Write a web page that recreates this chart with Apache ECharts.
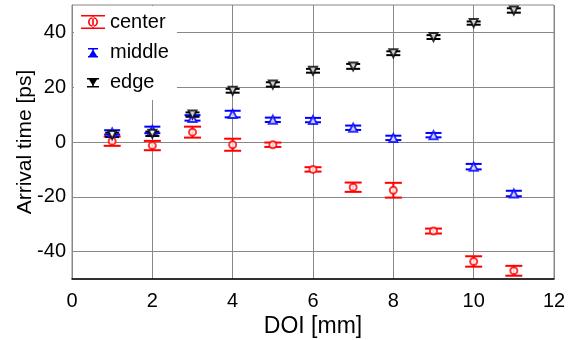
<!DOCTYPE html>
<html>
<head>
<meta charset="utf-8">
<script src="https://cdn.jsdelivr.net/npm/echarts@6/dist/echarts.min.js"></script>
<style>
  html, body { margin: 0; padding: 0; background: #fff; }
  #chart { width: 568px; height: 340px; }
</style>
</head>
<body>
<div id="chart"></div>
<script>
// Depth of interaction (mm) for each measurement
const doi = [1, 2, 3, 4, 5, 6, 7, 8, 9, 10, 11];

// Mean arrival time (ps) and its uncertainty for each crystal position
const centerTime = [0.3, -1.3, 3.6, -1.0, -1.0, -10.0, -16.5, -17.6, -32.5, -43.6, -47.0];
const centerErr  = [1.7, 1.7, 2.0, 2.2, 0.8, 0.8, 1.7, 2.7, 0.9, 1.9, 1.8];

const middleTime = [3.5, 4.4, 8.8, 10.2, 8.1, 8.0, 5.2, 1.5, 2.5, -9.0, -18.8];
const middleErr  = [0.8, 1.2, 1.0, 1.2, 0.8, 0.8, 0.8, 0.8, 0.8, 1.0, 1.0];

const edgeTime = [2.6, 3.0, 10.0, 18.7, 21.0, 26.0, 27.6, 32.4, 38.3, 43.4, 48.0];
const edgeErr  = [0.8, 0.8, 0.8, 0.7, 0.8, 0.7, 0.9, 0.7, 0.7, 0.6, 0.8];

// Axis ticks
const xTicks = [0, 2, 4, 6, 8, 10, 12];
const yTicks = [-40, -20, 0, 20, 40];

const FONT = 'Liberation Sans, Arial, Helvetica, sans-serif';
const GRID_COLOR = '#888';

function rows(times, errs) {
  return doi.map((d, i) => [d, times[i], errs[i]]);
}

// Vertical error bar with end caps, drawn in data coordinates
function errorBarRenderer(color, capHalf, width) {
  return function (params, api) {
    const x = api.value(0), y = api.value(1), e = api.value(2);
    const hi = api.coord([x, y + e]);
    const lo = api.coord([x, y - e]);
    const style = { stroke: color, lineWidth: width, fill: null };
    return {
      type: 'group',
      children: [
        { type: 'line', shape: { x1: hi[0], y1: hi[1], x2: lo[0], y2: lo[1] }, style },
        { type: 'line', shape: { x1: hi[0] - capHalf, y1: hi[1], x2: hi[0] + capHalf, y2: hi[1] }, style },
        { type: 'line', shape: { x1: lo[0] - capHalf, y1: lo[1], x2: lo[0] + capHalf, y2: lo[1] }, style }
      ]
    };
  };
}

// Legend glyphs: error bar with marker
const ring = 'M7 7 A5 5 0 1 0 17 7 A5 5 0 1 0 7 7 Z M8.6 7 A3.4 3.4 0 1 1 15.4 7 A3.4 3.4 0 1 1 8.6 7 Z';
const capsTall = 'M0 0 H24 V1.6 H0 Z M0 12.4 H24 V14 H0 Z M11.2 0 H12.8 V14 H11.2 Z ';
const iconCenter = 'path://' + capsTall + ring;
const iconMiddle = 'path://M0 0 H24 V0.1 H0 Z M0 13.9 H24 V14 H0 Z M7 3 H17 V4.6 H7 Z M7 11 H17 V12.6 H7 Z M11.2 3 H12.8 V12.6 H11.2 Z M12 4.5 L16 11 H8 Z';
const iconEdge = 'path://M0 0 H24 V0.1 H0 Z M0 13.9 H24 V14 H0 Z M6 3 H18 V4.6 H6 Z M6 11 H18 V12.6 H6 Z M11.2 3 H12.8 V12.6 H11.2 Z M8 4.5 H16 L12 11 Z';

const chart = echarts.init(document.getElementById('chart'), null, { renderer: 'canvas' });

const groups = [
  { name: 'center', color: '#ff0000', times: centerTime, errs: centerErr, symbol: 'circle', size: 7, cap: 8.5 },
  { name: 'middle', color: '#0000ff', times: middleTime, errs: middleErr, symbol: 'triangle', size: 8, cap: 8 },
  { name: 'edge',   color: '#000000', times: edgeTime,   errs: edgeErr,   symbol: 'path://M0 0 H10 L5 9 Z', size: 8, cap: 7 }
];

const series = [
  // Horizontal grid lines at the labelled y ticks
  {
    name: 'ygrid',
    type: 'line',
    data: [],
    silent: true,
    z: 0,
    markLine: {
      silent: true,
      symbol: 'none',
      z: 0,
      label: { show: false },
      lineStyle: { color: GRID_COLOR, width: 1, type: 'solid' },
      emphasis: { disabled: true },
      data: yTicks.map(v => ({ yAxis: v }))
    }
  }
];
groups.forEach(g => {
  series.push({
    name: g.name,
    type: 'custom',
    renderItem: errorBarRenderer(g.color, g.cap, 2),
    data: rows(g.times, g.errs),
    encode: { x: 0, y: 1 },
    itemStyle: { color: g.color },
    silent: true,
    z: 2
  });
  series.push({
    name: g.name,
    type: 'scatter',
    data: rows(g.times, g.errs),
    symbol: g.symbol,
    symbolSize: g.size,
    itemStyle: { color: '#fff', borderColor: g.color, borderWidth: 2 },
    z: 3
  });
});

chart.setOption({
  animation: false,
  backgroundColor: '#fff',
  grid: {
    left: 72, right: 14, top: 5, bottom: 61,
    containLabel: false,
    outerBoundsMode: 'none',
    show: true, borderColor: GRID_COLOR, borderWidth: 1, backgroundColor: 'transparent'
  },
  legend: {
    orient: 'vertical',
    left: 74, top: 6,
    z: 20,
    padding: [6, 8, 8, 7],
    itemGap: 10,
    itemWidth: 24, itemHeight: 14,
    backgroundColor: '#fff',
    borderWidth: 0,
    textStyle: { fontFamily: FONT, fontSize: 20, color: '#000' },
    data: [
      { name: 'center', icon: iconCenter, itemStyle: { color: '#ff0000' } },
      { name: 'middle', icon: iconMiddle, itemStyle: { color: '#0000ff' } },
      { name: 'edge', icon: iconEdge, itemStyle: { color: '#000000' } }
    ]
  },
  xAxis: {
    type: 'value',
    min: xTicks[0], max: xTicks[xTicks.length - 1], interval: 2,
    name: 'DOI [mm]', nameLocation: 'middle', nameGap: 36,
    nameMoveOverlap: false,
    nameTextStyle: { fontFamily: FONT, fontSize: 23, color: '#000' },
    axisLine: { show: true, onZero: false, lineStyle: { color: '#000', width: 1.5 } },
    axisTick: { show: false },
    axisLabel: { fontFamily: FONT, fontSize: 20, color: '#000', margin: 12 },
    splitLine: { show: true, lineStyle: { color: GRID_COLOR, width: 1 } }
  },
  yAxis: {
    type: 'value',
    min: -50, max: 50, interval: 10,
    name: 'Arrival time [ps]', nameLocation: 'middle', nameGap: 36,
    nameMoveOverlap: false,
    nameTextStyle: { fontFamily: FONT, fontSize: 21, color: '#000' },
    axisLine: { show: true, onZero: false, lineStyle: { color: GRID_COLOR, width: 1 } },
    axisTick: { show: false },
    axisLabel: {
      fontFamily: FONT, fontSize: 20, color: '#000', margin: 6,
      formatter: v => (yTicks.indexOf(v) >= 0 ? String(v) : '')
    },
    splitLine: { show: false }
  },
  series
});
</script>
</body>
</html>
